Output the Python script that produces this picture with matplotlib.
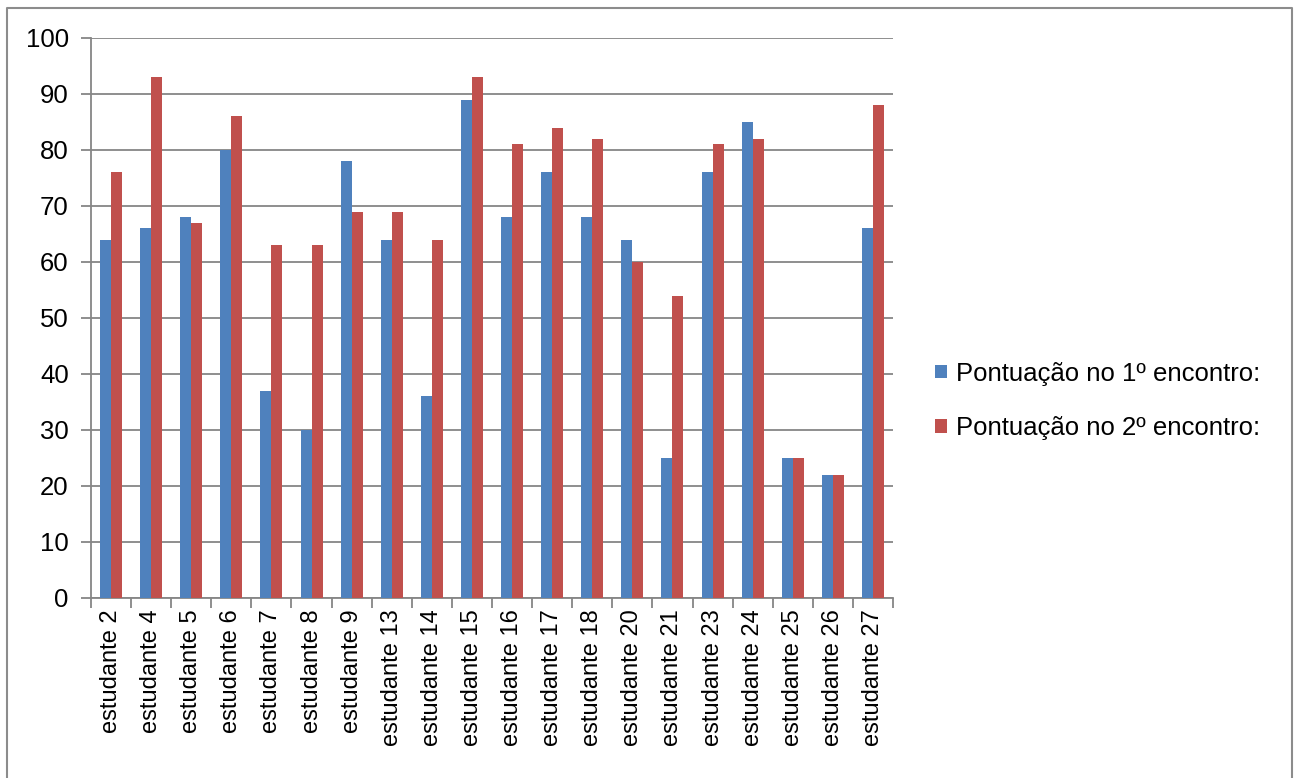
import numpy as np
import matplotlib.pyplot as plt
from matplotlib.lines import Line2D

plt.rcParams['font.family'] = ['Liberation Sans', 'DejaVu Sans']

estudantes = ['estudante 2', 'estudante 4', 'estudante 5', 'estudante 6', 'estudante 7',
              'estudante 8', 'estudante 9', 'estudante 13', 'estudante 14', 'estudante 15',
              'estudante 16', 'estudante 17', 'estudante 18', 'estudante 20', 'estudante 21',
              'estudante 23', 'estudante 24', 'estudante 25', 'estudante 26', 'estudante 27']
encontro1 = [64, 66, 68, 80, 37, 30, 78, 64, 36, 89, 68, 76, 68, 64, 25, 76, 85, 25, 22, 66]
encontro2 = [76, 93, 67, 86, 63, 63, 69, 69, 64, 93, 81, 84, 82, 60, 54, 81, 82, 25, 22, 88]

fig = plt.figure(figsize=(12.98, 7.78), dpi=100)
ax = fig.add_axes([0.0701, 0.2314, 0.6179, 0.7198])

# moldura externa (sem linha em baixo, como no original)
fx = [7 / 1298, 7 / 1298, 1292 / 1298, 1292 / 1298]
fy = [0.0, 1 - 8 / 778, 1 - 8 / 778, 0.0]
fig.add_artist(Line2D(fx, fy, transform=fig.transFigure, color='#8c8c8c', linewidth=1.5))

x = np.arange(len(estudantes))
w = 0.275
ax.bar(x - w / 2, encontro1, w, color='#4F81BD', label='Pontuação no 1º encontro:', zorder=3)
ax.bar(x + w / 2, encontro2, w, color='#C0504D', label='Pontuação no 2º encontro:', zorder=3)

ax.set_xlim(-0.5, len(estudantes) - 0.5)
ax.set_ylim(0, 100)
ax.set_yticks(range(0, 101, 10))
ax.yaxis.grid(True, color='#868686', linewidth=1.3, zorder=0)

ax.set_xticks(x)
ax.set_xticklabels(estudantes, rotation=90, fontsize=17)
ax.set_xticks(np.arange(-0.5, len(estudantes)), minor=True)
ax.tick_params(axis='x', which='major', length=0, pad=8)
ax.tick_params(axis='x', which='minor', length=7, color='#868686', width=1.3)
ax.tick_params(axis='y', length=7, color='#868686', width=1.3, labelsize=18.5, pad=9)

for side in ['top', 'right']:
    ax.spines[side].set_visible(False)
for side in ['left', 'bottom']:
    ax.spines[side].set_color('#868686')
    ax.spines[side].set_linewidth(1.3)

fig.legend(loc='center left', bbox_to_anchor=(0.7026, 0.4846), frameon=False, fontsize=18.5,
           handlelength=0.45, handleheight=0.45, handletextpad=0.35, labelspacing=1.2)

plt.savefig('out.png', dpi=100)
